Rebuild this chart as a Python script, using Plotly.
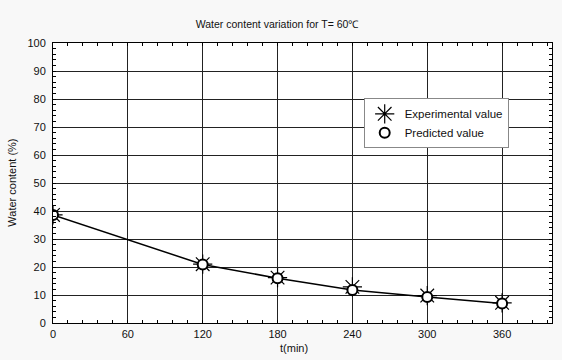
import plotly.graph_objects as go

t_min = [0, 120, 180, 240, 300, 360]
experimental = [38.6, 21.0, 16.2, 12.9, 9.8, 7.2]
predicted = [38.6, 20.9, 16.0, 11.8, 9.3, 7.0]
x_ticks = [0, 60, 120, 180, 240, 300, 360]
y_ticks = [0, 10, 20, 30, 40, 50, 60, 70, 80, 90, 100]

FONT = "Liberation Sans, Arial, sans-serif"

fig = go.Figure()
fig.add_trace(go.Scatter(x=t_min, y=predicted, mode="lines",
                         line=dict(color="black", width=1.5), showlegend=False,
                         hoverinfo="skip"))
fig.add_trace(go.Scatter(x=t_min, y=experimental, mode="markers", name="Experimental value",
                         marker=dict(symbol="asterisk-open", size=16, color="black",
                                     line=dict(color="black", width=1.2))))
fig.add_trace(go.Scatter(x=t_min, y=predicted, mode="markers", name="Predicted value",
                         marker=dict(symbol="circle", size=10, color="white",
                                     line=dict(color="black", width=2))))

axis_common = dict(showline=True, linecolor="black", linewidth=1, mirror="ticks",
                   showgrid=True, gridcolor="#222222", gridwidth=1, zeroline=False,
                   ticks="inside", ticklen=3, tickcolor="black",
                   tickfont=dict(family=FONT, size=11, color="#111111"))

fig.update_xaxes(range=[0, 400], tickvals=x_ticks, ticktext=[str(v) for v in x_ticks],
                 minor=dict(dtick=12, tick0=0, ticks="inside", ticklen=3, tickcolor="black",
                            showgrid=False),
                 ticklabelstandoff=1,
                 **axis_common)
fig.update_yaxes(range=[0, 100], tickvals=y_ticks, ticktext=[str(v) for v in y_ticks],
                 minor=dict(dtick=2, tick0=0, ticks="inside", ticklen=3, tickcolor="black",
                            showgrid=False),
                 ticklabelstandoff=4,
                 **axis_common)

fig.update_layout(
    width=562, height=360,
    margin=dict(l=53.3, r=9.7, t=42.7, b=37.3),
    paper_bgcolor="#f8f8f8", plot_bgcolor="white",
    font=dict(family=FONT, size=11, color="#111111"),
    title=dict(text="Water content variation for T= 60℃", x=0.493, xanchor="center",
               y=1 - 24 / 360, yanchor="middle", font=dict(size=10.5, family=FONT)),
    showlegend=True,
    legend=dict(x=(364 - 53.3) / (552.3 - 53.3), y=(322.7 - 98) / 280,
                xanchor="left", yanchor="top", bgcolor="white",
                bordercolor="#888888", borderwidth=1,
                font=dict(family=FONT, size=11.5, color="#111111"),
                itemwidth=30, tracegroupgap=0),
    annotations=[
        dict(text="t(min)", xref="paper", yref="paper",
             x=(294 - 53.3) / (552.3 - 53.3), y=-(348 - 322.7) / 280,
             xanchor="center", yanchor="middle", showarrow=False,
             font=dict(family=FONT, size=11, color="#111111")),
        dict(text="Water content (%)", xref="paper", yref="paper",
             x=-(53.3 - 12) / (552.3 - 53.3), y=0.5, textangle=-90,
             xanchor="center", yanchor="middle", showarrow=False,
             font=dict(family=FONT, size=11, color="#111111")),
    ],
)

fig.write_html("out.html")
